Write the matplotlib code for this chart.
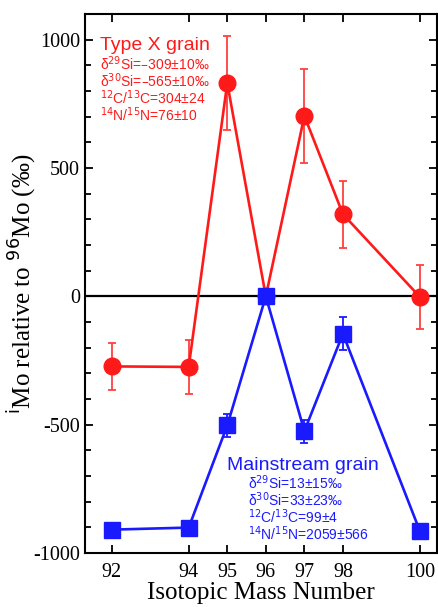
import matplotlib
matplotlib.use("Agg")
import matplotlib.pyplot as plt
from matplotlib.ticker import MultipleLocator, FixedLocator

plt.rcParams['axes.unicode_minus'] = False

mass = [92, 94, 95, 96, 97, 98, 100]

# Type X grain
x_vals = [-273, -275, 831, 0, 703, 320, -3]
x_err = [90, 105, 182, 0, 183, 130, 125]

# Mainstream grain
ms_vals = [-909, -901, -503, 0, -525, -146, -916]
ms_err = [0, 0, 45, 0, 45, 65, 0]

red = '#ff1a1a'
blue = '#1a1aff'
serif = 'Liberation Serif'
sans = 'Liberation Sans'

fig = plt.figure(figsize=(4.38, 6.07), dpi=100)
ax = fig.add_axes([85 / 438, 1 - 553 / 607, (437 - 85) / 438, (553 - 14) / 607])

ax.axhline(0, color='black', lw=1.6, zorder=1)

ax.errorbar(mass, x_vals, yerr=x_err, color=red, ecolor='#ff4040', elinewidth=1.3,
            capsize=3, capthick=1.3, marker='o', markersize=12, lw=1.9, zorder=3)
ax.errorbar(mass, ms_vals, yerr=ms_err, color=blue, ecolor=blue, elinewidth=1.3,
            capsize=3, capthick=1.3, marker='s', markersize=11, lw=1.9, zorder=3)

ax.set_xlim(91.31, 100.44)
ax.set_ylim(-1000, 1100)
ax.xaxis.set_major_locator(FixedLocator(mass))
ax.yaxis.set_major_locator(MultipleLocator(500))
ax.yaxis.set_minor_locator(MultipleLocator(100))
ax.tick_params(which='both', direction='in', top=True, right=True, width=1.3)
ax.tick_params(which='major', length=6, labelsize=14.5)
ax.tick_params(which='minor', length=4)
ax.tick_params(axis='x', pad=7)
ax.tick_params(axis='y', which='both', right=True, labelright=False)
for lab in ax.get_xticklabels() + ax.get_yticklabels():
    lab.set_fontfamily(serif)
for s in ax.spines.values():
    s.set_linewidth(1.5)

ax.set_xlabel('Isotopic Mass Number', fontfamily=serif, fontsize=18, labelpad=0)
ax.set_ylabel('$^{\\mathrm{i}}$Mo relative to $^{96}$Mo (‰)', fontfamily=serif, fontsize=18,
              va='center')
ax.yaxis.set_label_coords(-63 / 352, 0.5)

ax.text(100 / 438, 1 - 45 / 607, 'Type X grain', transform=fig.transFigure, color=red,
        fontsize=14, fontfamily=sans, va='center')
x_lines = ['δ$^{29}$Si=\u2013309±10‰', 'δ$^{30}$Si=\u2013565±10‰',
           '$^{12}$C/$^{13}$C=304±24', '$^{14}$N/$^{15}$N=76±10']
for i, t in enumerate(x_lines):
    ax.text(100 / 438, 1 - (64 + 17 * i) / 607, t, transform=fig.transFigure, color=red,
            fontsize=10, fontfamily=sans, va='center')

ax.text(227 / 438, 1 - 465 / 607, 'Mainstream grain', transform=fig.transFigure, color=blue,
        fontsize=14, fontfamily=sans, va='center')
ms_lines = ['δ$^{29}$Si=13±15‰', 'δ$^{30}$Si=33±23‰',
            '$^{12}$C/$^{13}$C=99±4', '$^{14}$N/$^{15}$N=2059±566']
for i, t in enumerate(ms_lines):
    ax.text(248 / 438, 1 - (483 + 17 * i) / 607, t, transform=fig.transFigure, color=blue,
            fontsize=10, fontfamily=sans, va='center')

fig.savefig('out.png', dpi=100)
